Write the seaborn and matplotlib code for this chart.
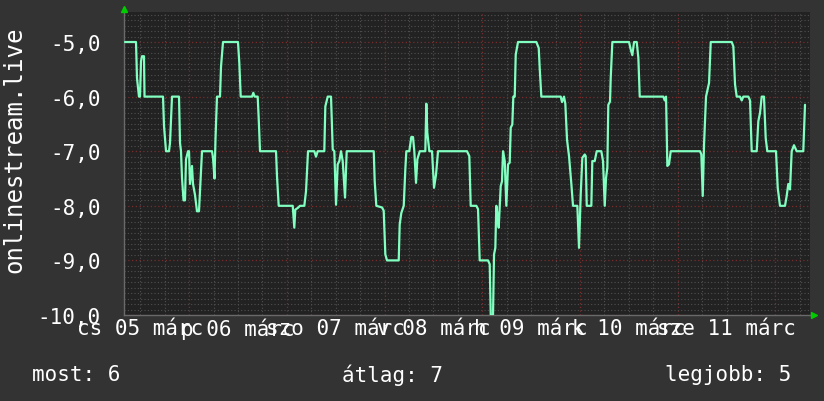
import numpy as np
import pandas as pd
import matplotlib
matplotlib.use("Agg")
import matplotlib.pyplot as plt
import matplotlib.dates as mdates
from matplotlib.ticker import MultipleLocator, FuncFormatter
import seaborn as sns

START = "2015-03-05 08:00"
END = "2015-03-12 08:30"

hours_since_start = [
    0.25, 2.95, 3.19, 3.68, 3.93, 4.18, 4.42, 4.91, 5.04, 9.58,
    9.83, 10.32, 11.05, 11.30, 11.79, 13.51, 13.76, 14.00, 14.25, 14.62,
    14.98, 15.23, 15.72, 15.97, 16.21, 16.70, 16.95, 17.44, 17.93, 18.42,
    18.67, 19.16, 21.62, 21.86, 22.23, 22.48, 22.84, 23.58, 23.83, 24.32,
    28.00, 28.32, 28.67, 31.44, 31.76, 32.10, 32.84, 33.08, 33.41, 37.34,
    37.58, 38.00, 41.44, 41.83, 42.08, 42.67, 43.23, 44.29, 44.71, 45.20,
    46.75, 47.16, 47.58, 49.20, 49.45, 50.04, 50.85, 51.27, 51.66, 52.08,
    52.49, 52.89, 53.30, 53.72, 54.29, 54.70, 61.34, 61.58, 61.98, 63.38,
    63.79, 64.19, 64.60, 67.48, 67.72, 68.12, 68.71, 69.10, 69.35, 70.08,
    70.57, 70.99, 71.31, 71.73, 72.05, 72.64, 74.01, 74.26, 74.50, 75.00,
    75.66, 76.15, 76.64, 77.13, 84.25, 84.82, 85.16, 86.54, 86.96, 87.37,
    89.41, 89.83, 90.08, 90.64, 90.89, 91.21, 91.45, 91.70, 92.04, 92.29,
    92.53, 92.85, 93.10, 93.52, 93.91, 94.33, 94.74, 94.99, 95.38, 95.63,
    95.97, 96.22, 96.78, 101.28, 101.87, 102.11, 102.51, 107.27, 107.59, 108.08,
    108.40, 108.82, 109.31, 109.88, 110.29, 111.35, 111.76, 112.18, 112.58, 113.17,
    113.41, 113.66, 114.79, 115.03, 115.62, 116.11, 117.24, 117.66, 118.08, 118.40,
    118.72, 118.96, 119.38, 119.55, 119.95, 124.05, 124.47, 124.86, 125.28, 125.94,
    126.34, 126.68, 132.47, 132.82, 133.14, 133.46, 133.87, 134.29, 141.49, 141.81,
    142.15, 142.47, 142.96, 143.70, 144.12, 149.27, 149.67, 150.09, 150.50, 151.31,
    151.73, 152.12, 153.35, 153.77, 154.18, 155.41, 155.81, 156.22, 156.64, 157.20,
    157.62, 158.01, 160.15, 160.57, 161.13, 162.36, 162.77, 163.17, 163.59, 164.00,
    164.57, 165.23, 166.85, 167.27,
]

rank_values = [
    -5.0, -5.0, -5.66, -6.0, -6.0, -5.35, -5.26, -5.26, -6.0, -6.0,
    -6.54, -7.0, -7.0, -6.85, -6.0, -6.0, -6.85, -7.0, -7.49, -7.9,
    -7.9, -7.15, -7.0, -7.0, -7.6, -7.27, -7.6, -7.8, -8.1, -8.1,
    -7.73, -7.0, -7.0, -7.12, -7.5, -6.76, -6.0, -6.0, -5.45, -5.0,
    -5.0, -5.38, -6.0, -6.0, -5.93, -6.0, -6.0, -6.39, -7.0, -7.0,
    -7.46, -8.0, -8.0, -8.4, -8.07, -8.04, -8.0, -8.0, -7.73, -7.0,
    -7.0, -7.1, -7.0, -7.0, -6.18, -6.0, -6.0, -6.97, -7.0, -7.98,
    -7.24, -7.18, -7.0, -7.18, -7.85, -7.0, -7.0, -7.55, -8.0, -8.03,
    -8.09, -8.89, -9.0, -9.0, -8.34, -8.13, -8.0, -7.33, -7.0, -7.0,
    -6.74, -6.74, -7.0, -7.58, -7.15, -7.0, -7.0, -6.13, -6.66, -7.0,
    -7.0, -7.67, -7.43, -7.0, -7.0, -7.09, -8.0, -8.0, -8.06, -9.0,
    -9.0, -9.07, -10.0, -10.0, -8.89, -8.77, -8.0, -8.15, -8.4, -8.0,
    -7.64, -7.55, -7.0, -7.18, -8.0, -7.24, -7.21, -6.57, -6.51, -6.0,
    -6.0, -5.23, -5.0, -5.0, -5.11, -5.48, -6.0, -6.0, -6.1, -6.0,
    -6.13, -6.79, -7.09, -7.6, -8.0, -8.0, -8.77, -7.79, -7.12, -7.06,
    -7.09, -8.0, -8.0, -7.18, -7.18, -7.0, -7.0, -7.18, -8.0, -7.49,
    -7.3, -6.15, -6.09, -5.66, -5.0, -5.0, -5.14, -5.24, -5.0, -5.0,
    -5.29, -6.0, -6.0, -6.07, -6.0, -7.27, -7.24, -7.0, -7.0, -7.06,
    -7.82, -6.88, -6.0, -5.75, -5.0, -5.0, -5.08, -5.78, -6.0, -6.0,
    -6.07, -6.0, -6.0, -6.07, -7.0, -7.0, -6.45, -6.3, -6.0, -6.0,
    -6.76, -7.0, -7.0, -7.67, -8.0, -8.0, -7.82, -7.6, -7.7, -7.0,
    -6.89, -7.0, -7.0, -6.15,
]

day_dates = ["2015-03-05", "2015-03-06", "2015-03-07", "2015-03-08",
             "2015-03-09", "2015-03-10", "2015-03-11"]
day_labels = ["cs 05 márc", "p 06 márc", "szo 07 márc", "v 08 márc",
              "h 09 márc", "k 10 márc", "sze 11 márc"]
series_name = "onlinestream.live"
legend_names = ["most", "átlag", "legjobb"]
legend_values = [6, 7, 5]

sns.set_theme(style="dark")
plt.rcParams["font.family"] = ["DejaVu Sans Mono", "DejaVu Sans"]

BG = "#333333"
PLOT_BG = "#222222"
LINE = "#80FFC0"
TXT = "#FFFFFF"
FS = 15

df = pd.DataFrame({
    "time": pd.Timestamp(START) + pd.to_timedelta(hours_since_start, unit="h"),
    "value": rank_values,
})

W, H = 824, 402
fig = plt.figure(figsize=(W / 100, H / 100), dpi=100, facecolor=BG)
ax = fig.add_axes([124 / W, 1 - 316 / H, 686 / W, 303 / H])
ax.set_facecolor(PLOT_BG)

sns.lineplot(data=df, x="time", y="value", ax=ax, color=LINE, linewidth=1.6,
             estimator=None, sort=False, legend=False, zorder=5)

ax.set_xlim(pd.Timestamp(START), pd.Timestamp(END))
ax.set_ylim(-10, -4.45)

# x axis: midnight (major, red grid), 6-hourly (minor, gray grid), labels at noon
ax.xaxis.set_major_locator(mdates.DayLocator())
ax.xaxis.set_major_formatter(FuncFormatter(lambda v, p: ""))
ax.xaxis.set_minor_locator(mdates.HourLocator(byhour=[6, 12, 18]))
label_map = {pd.Timestamp(d).date(): l for d, l in zip(day_dates, day_labels)}


def noon_label(v, pos):
    dt = mdates.num2date(v)
    if dt.hour == 12:
        return label_map.get(dt.date(), "")
    return ""


ax.xaxis.set_minor_formatter(FuncFormatter(noon_label))

ax.yaxis.set_major_locator(MultipleLocator(1.0))
ax.yaxis.set_minor_locator(MultipleLocator(0.1))
ax.yaxis.set_major_formatter(FuncFormatter(lambda v, p: f"{v:.1f}".replace(".", ",")))

ax.grid(which="major", color="#7a2c2c", linestyle=(0, (1, 2)), linewidth=0.9)
ax.grid(which="minor", color="#505050", linestyle=(0, (1, 2)), linewidth=0.8)
ax.set_axisbelow(True)

ax.tick_params(axis="x", which="minor", length=0, labelsize=FS, labelcolor=TXT, pad=2)
ax.tick_params(axis="x", which="major", length=3, color="#aa3333", labelsize=FS)
ax.tick_params(axis="y", which="major", length=3, color="#aa3333", labelsize=FS,
               labelcolor=TXT, pad=14)
ax.tick_params(axis="y", which="minor", length=0)

for s in ["top", "right"]:
    ax.spines[s].set_visible(False)
for s in ["left", "bottom"]:
    ax.spines[s].set_color("#6a6a6a")
    ax.spines[s].set_linewidth(1.0)

ax.set_xlabel("")
ax.set_ylabel("")

# axis arrows
ax.plot([0], [1.01], marker="^", color="#00cc00", markersize=5,
        transform=ax.transAxes, clip_on=False, zorder=10)
ax.plot([1.006], [0], marker=">", color="#00cc00", markersize=5,
        transform=ax.transAxes, clip_on=False, zorder=10)

fig.text(14 / W, 1 - 150 / H, series_name, rotation=90, ha="center", va="center",
         fontsize=17.3, color=TXT)

fig.text(32 / W, 1 - 375 / H, f"{legend_names[0]}: {legend_values[0]}",
         ha="left", va="center", fontsize=FS, color=TXT)
fig.text(392 / W, 1 - 375 / H, f"{legend_names[1]}: {legend_values[1]}",
         ha="center", va="center", fontsize=FS, color=TXT)
fig.text(791 / W, 1 - 375 / H, f"{legend_names[2]}: {legend_values[2]}",
         ha="right", va="center", fontsize=FS, color=TXT)

fig.savefig("out.png", dpi=100, facecolor=BG)
